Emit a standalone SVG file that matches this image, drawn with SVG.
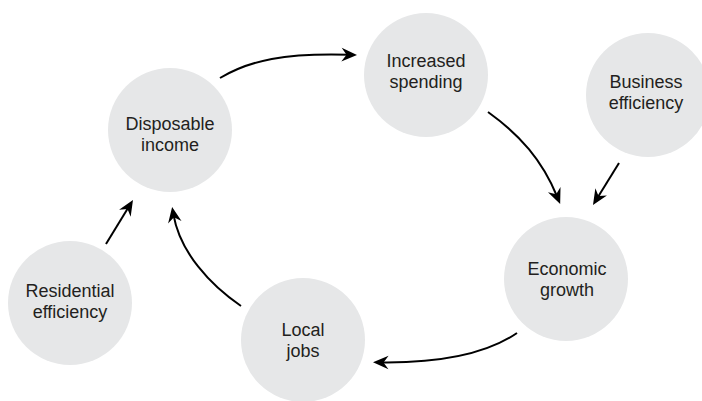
<svg xmlns="http://www.w3.org/2000/svg" width="702" height="401" viewBox="0 0 702 401">
<style>
.node circle{fill:#e6e7e8}
.node text{font-family:"Liberation Sans",Arial,sans-serif;font-size:18px;fill:#231f20;text-anchor:middle}
.conn path{fill:none;stroke:#000;stroke-width:2}
</style>
<defs>
<marker id="ah" markerUnits="userSpaceOnUse" viewBox="-8 -7 17 14" markerWidth="17" markerHeight="14" refX="0" refY="0" orient="auto" overflow="visible">
<path d="M8,0 L-7.5,-6.8 L-2.5,0 L-7.5,6.8 Z" fill="#000"/>
</marker>
</defs>
<rect width="702" height="401" fill="#fff"/>
<g id="disposable-income" class="node"><circle cx="170" cy="130" r="62"/><text x="170" y="130">Disposable</text><text x="170" y="151">income</text></g>
<g id="increased-spending" class="node"><circle cx="426" cy="75" r="62"/><text x="426" y="67">Increased</text><text x="426" y="88">spending</text></g>
<g id="business-efficiency" class="node"><circle cx="648" cy="95" r="62"/><text x="646" y="88">Business</text><text x="646" y="109">efficiency</text></g>
<g id="economic-growth" class="node"><circle cx="566" cy="279" r="62"/><text x="567" y="275">Economic</text><text x="567" y="296">growth</text></g>
<g id="local-jobs" class="node"><circle cx="303" cy="340" r="62"/><text x="303" y="336">Local</text><text x="303" y="357">jobs</text></g>
<g id="residential-efficiency" class="node"><circle cx="70" cy="303" r="62"/><text x="70" y="297">Residential</text><text x="70" y="318">efficiency</text></g>
<g id="connectors" class="conn">
<path d="M220,78 C250,60 285,53 349,54.8" marker-end="url(#ah)"/>
<path d="M488,112 C520,135 542,160 557.1,196.5" marker-end="url(#ah)"/>
<path d="M619,163 L597.2,198.2" marker-end="url(#ah)"/>
<path d="M517,333 C485,355 435,363 381,362.4" marker-end="url(#ah)"/>
<path d="M241,306 C210,285 180,252 173.5,214.9" marker-end="url(#ah)"/>
<path d="M106,244 L128.8,206.8" marker-end="url(#ah)"/>
</g>
</svg>
